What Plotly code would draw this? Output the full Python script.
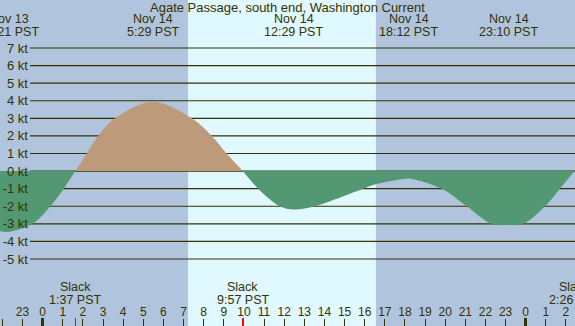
import plotly.graph_objects as go

# ---- data (hours relative to Nov 14 00:00 PST, current in knots) ----
hours = [-2.12, -1.65, -0.47, 0.36, 1.02, 1.62, 2.19, 2.76, 3.59, 5.48, 7.40, 8.40,
         9.14, 9.95, 10.71, 11.79, 12.48, 13.53, 14.5, 15.93, 16.6, 17.92, 18.2,
         19.83, 21.07, 22.31, 23.17, 23.88, 24.96, 25.7, 26.43, 26.5]
knots = [-3.42, -3.45, -2.97, -2.03, -1.04, 0.0, 1.0, 2.0, 3.0, 3.95, 3.0, 2.0,
         1.0, 0.0, -1.0, -2.0, -2.18, -2.0, -1.62, -1.0, -0.74, -0.45, -0.42,
         -1.0, -2.0, -3.0, -3.07, -3.0, -2.0, -1.0, 0.0, 0.02]

event_times = [-1.65, 5.48, 12.48, 18.2, 23.17]
event_dates = ["Nov 13", "Nov 14", "Nov 14", "Nov 14", "Nov 14"]
event_clock = ["22:21 PST", "5:29 PST", "12:29 PST", "18:12 PST", "23:10 PST"]

slack_times = [1.62, 9.95, 26.43]
slack_clock = ["1:37 PST", "9:57 PST", "2:26 PST"]

sunrise, sunset = 7.22, 16.56
midnights = [0, 24]
hour_ticks = list(range(-2, 27))
hour_labels = [str(h % 24) for h in hour_ticks]
kt_ticks = list(range(-5, 8))
kt_labels = [f"{k} kt" for k in kt_ticks]

title = "Agate Passage, south end, Washington Current"

W, H = 575, 326
XR = [-2.12, 26.45]
YR = [-8.81, 9.73]
TXT = "#333300"
NIGHT = "#B0C4DE"
DAY = "#E0F8FF"
FLOOD = "#BC9A7A"
EBB = "#529873"
FONT = "Liberation Sans, Arial, sans-serif"

# split into flood / ebb segments sharing slack points
segments = []
cur = [[hours[0]], [knots[0]]]
sign = 1 if knots[0] > 0 else -1
for h, v in zip(hours[1:], knots[1:]):
    cur[0].append(h)
    cur[1].append(v)
    if v == 0:
        segments.append((sign, cur))
        cur = [[h], [v]]
        sign = -sign
segments.append((sign, cur))

fig = go.Figure()
for s, (xs, ys) in segments:
    fig.add_trace(go.Scatter(
        x=xs, y=ys, mode="lines", line=dict(width=0, shape="spline", smoothing=1.0),
        fill="tozeroy", fillcolor=FLOOD if s > 0 else EBB, hoverinfo="skip",
        showlegend=False))

# dummy traces for overlay tick axes
fig.add_trace(go.Scatter(x=[None], y=[None], xaxis="x2", showlegend=False))
fig.add_trace(go.Scatter(x=[None], y=[None], xaxis="x3", showlegend=False))

shapes = [dict(type="rect", xref="x", yref="paper", x0=sunrise, x1=sunset, y0=0, y1=1,
               fillcolor=DAY, line=dict(width=0), layer="below")]
for k in kt_ticks:
    shapes.append(dict(type="line", xref="paper", yref="y", x0=30 / W, x1=1, y0=k, y1=k,
                       line=dict(color=TXT, width=1.2), layer="below"))

def f(size=12.5):
    return dict(size=size, color=TXT, family=FONT)

ann = [dict(text=title, xref="paper", yref="paper", x=0.5, y=1 - 8 / H, showarrow=False,
            xanchor="center", yanchor="middle", font=f(13))]
for t, d, c in zip(event_times, event_dates, event_clock):
    ann.append(dict(text=d, x=t, xref="x", yref="paper", y=1 - 19 / H, showarrow=False,
                    xanchor="center", yanchor="middle", font=f()))
    ann.append(dict(text=c, x=t, xref="x", yref="paper", y=1 - 32 / H, showarrow=False,
                    xanchor="center", yanchor="middle", font=f()))
for t, c in zip(slack_times, slack_clock):
    ann.append(dict(text="Slack", x=t, xref="x", yref="paper", y=1 - 287 / H, showarrow=False,
                    xanchor="center", yanchor="middle", font=f()))
    ann.append(dict(text=c, x=t, xref="x", yref="paper", y=1 - 300 / H, showarrow=False,
                    xanchor="center", yanchor="middle", font=f()))

common = dict(showgrid=False, zeroline=False, showline=False, automargin=False)
fig.update_layout(
    width=W, height=H, margin=dict(l=0, r=0, t=0, b=0, pad=0, autoexpand=False),
    paper_bgcolor=NIGHT, plot_bgcolor=NIGHT, showlegend=False,
    shapes=shapes, annotations=ann,
    xaxis=dict(range=XR, domain=[0, 1], tickvals=hour_ticks, ticktext=hour_labels,
               ticks="inside", ticklen=7, tickwidth=1, tickcolor=TXT,
               ticklabelposition="inside", tickfont=f(12), **common),
    xaxis2=dict(range=XR, domain=[0, 1], overlaying="x", anchor="y", side="bottom",
                tickvals=midnights, ticks="inside", ticklen=8, tickwidth=3, tickcolor=TXT,
                showticklabels=False, **common),
    xaxis3=dict(range=XR, domain=[0, 1], overlaying="x", anchor="y", side="bottom",
                tickvals=slack_times, ticks="inside", ticklen=8, tickwidth=1.5,
                tickcolor="#FF0000", showticklabels=False, **common),
    yaxis=dict(range=YR, domain=[0, 1], tickvals=kt_ticks, ticktext=kt_labels,
               anchor="free", position=28 / W, ticks="", tickfont=f(13), **common),
)

fig.write_html("out.html", config={"displayModeBar": False, "staticPlot": True},
               post_script="document.body.style.margin='0px';"
                           "document.body.style.overflow='hidden';")
